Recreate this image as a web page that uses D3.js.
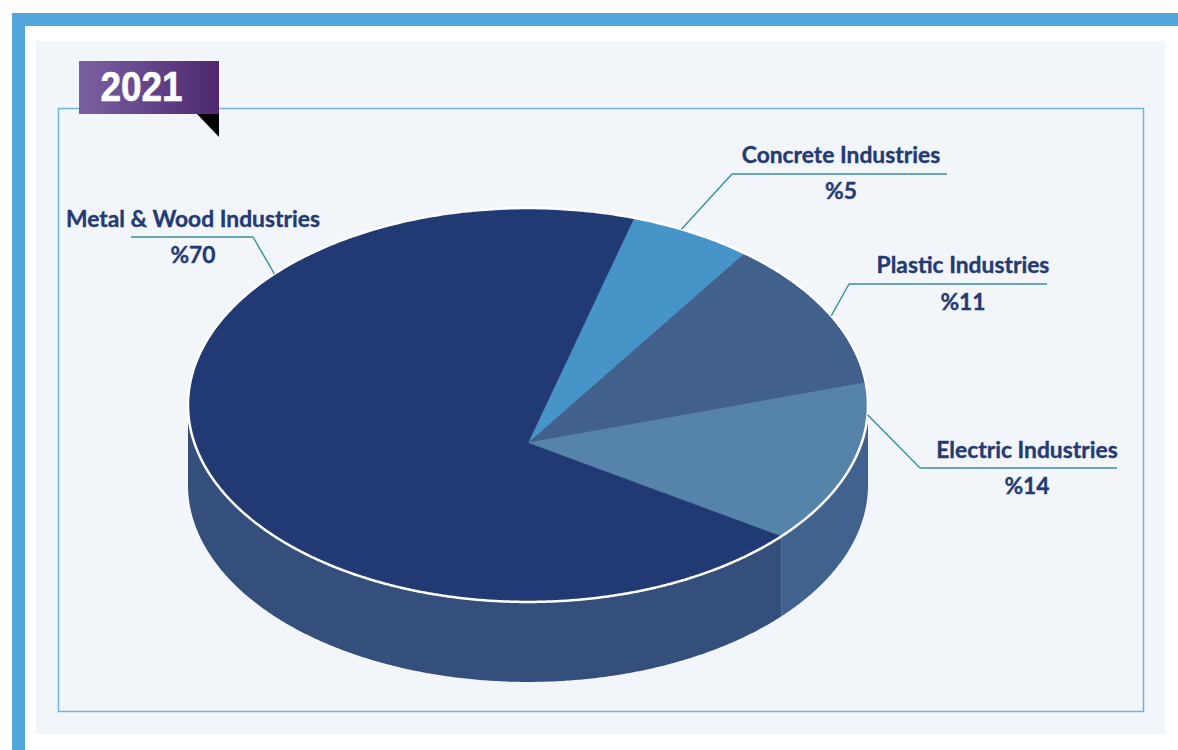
<!DOCTYPE html>
<html>
<head>
<meta charset="utf-8">
<script src="https://cdn.jsdelivr.net/npm/d3@7"></script>
<style>
  html, body { margin: 0; padding: 0; background: #ffffff; }
  svg { display: block; }
</style>
</head>
<body>
<script>
// ---- data ----
const year = "2021";
const categories = ["Concrete Industries", "Plastic Industries", "Electric Industries", "Metal & Wood Industries"];
const shares = [5, 11, 14, 70];
const shareLabels = ["%5", "%11", "%14", "%70"];

// ---- styling ----
const topColors  = ["#4795c8", "#41608c", "#5683aa", "#223a74"];
const sideColors = ["#3b7fb0", "#38557f", "#41618e", "#344f7b"];
const textColor = "#233a73";
const leaderColor = "#3a8f9a";

// label layout: text centre, baselines, leader elbow and horizontal rule, anchor position within slice
const labelLayout = [
  { x: 841,  nameY: 163, pctY: 199, ruleY: 174, ruleX0: 732, ruleX1: 947, elbowX: 732, anchor: 0.4 },
  { x: 963,  nameY: 273, pctY: 310, ruleY: 284, ruleX0: 849, ruleX1: 1047, elbowX: 849, anchor: 0.52 },
  { x: 1027, nameY: 458, pctY: 494, ruleY: 468, ruleX0: 920, ruleX1: 1117, elbowX: 920, anchor: 0.18 },
  { x: 193,  nameY: 227, pctY: 263, ruleY: 237, ruleX0: 131, ruleX1: 253, elbowX: 253, anchor: 0.78 }
];

const W = 1178, H = 750;
const svg = d3.select("body").append("svg").attr("width", W).attr("height", H);
const defs = svg.append("defs");

// ---- frame ----
svg.append("rect").attr("x", 18.5).attr("y", 19.5).attr("width", 1180).attr("height", 740)
  .attr("fill", "none").attr("stroke", "#52a7dc").attr("stroke-width", 13);
svg.append("rect").attr("x", 36).attr("y", 41).attr("width", 1129).attr("height", 693).attr("fill", "#f2f5fa");
svg.append("rect").attr("x", 58.5).attr("y", 108.5).attr("width", 1085).attr("height", 603)
  .attr("fill", "none").attr("stroke", "#6cb6e6").attr("stroke-width", 1.5);

// ---- 3D pie geometry ----
const cx = 528, cy = 443;        // apex of the slices
const a = 333.6, b = 189.6;      // projected radii
const k = 0.193;                 // perspective factor
const depth = 80;                // wall height

function rim(t, dy = 0) {
  const u = Math.sin(t), v = -Math.cos(t), w = 1 + k * v;
  return [cx + a * u / w, cy + b * v / w + dy];
}
function arcPoints(t0, t1, dy = 0) {
  const n = Math.max(2, Math.ceil(Math.abs(t1 - t0) / (Math.PI / 360)));
  return d3.range(n + 1).map(i => rim(t0 + (t1 - t0) * i / n, dy));
}
const line = d3.line();

const deg = Math.PI / 180;
const start = 15 * deg;
const pie = d3.pie().sort(null).value(d => d).startAngle(start).endAngle(start + 2 * Math.PI);
const arcs = pie(shares);

// front-facing wall lies between the two silhouette angles
const frontA = Math.acos(k), frontB = 2 * Math.PI - Math.acos(k);

const gSide = svg.append("g");
arcs.forEach((d, i) => {
  const s = Math.max(d.startAngle, frontA), e = Math.min(d.endAngle, frontB);
  if (e <= s) return;
  const pts = arcPoints(s, e).concat(arcPoints(e, s, depth));
  gSide.append("path").attr("d", line(pts) + "Z").attr("fill", sideColors[i]);
});

const gTop = svg.append("g");
arcs.forEach((d, i) => {
  const pts = [[cx, cy]].concat(arcPoints(d.startAngle, d.endAngle));
  gTop.append("path").attr("d", line(pts) + "Z")
    .attr("fill", topColors[i]).attr("stroke", topColors[i]).attr("stroke-width", 0.6);
});
// white rim around the top face
gTop.append("path").attr("d", line(arcPoints(0, 2 * Math.PI)) + "Z")
  .attr("fill", "none").attr("stroke", "#ffffff").attr("stroke-width", 2.5);

// ---- labels ----
const gLab = svg.append("g");
arcs.forEach((d, i) => {
  const L = labelLayout[i];
  const t = d.startAngle + L.anchor * (d.endAngle - d.startAngle);
  const p = rim(t);
  gLab.append("path")
    .attr("d", line([p, [L.elbowX, L.ruleY]]) + "M" + L.ruleX0 + "," + L.ruleY + "H" + L.ruleX1)
    .attr("fill", "none").attr("stroke", leaderColor).attr("stroke-width", 1.4);
  gLab.append("text").attr("x", L.x).attr("y", L.nameY).attr("text-anchor", "middle")
    .attr("font-family", "Lato, 'Noto Sans', sans-serif").attr("font-weight", 700)
    .attr("font-size", 22.8).attr("fill", textColor).attr("stroke", textColor).attr("stroke-width", 0.35)
    .text(categories[i]);
  gLab.append("text").attr("x", L.x).attr("y", L.pctY).attr("text-anchor", "middle")
    .attr("font-family", "Lato, 'Noto Sans', sans-serif").attr("font-weight", 700)
    .attr("font-size", 22.8).attr("fill", textColor).attr("stroke", textColor).attr("stroke-width", 0.35)
    .text(shareLabels[i]);
});

// ---- year badge ----
const grad = defs.append("linearGradient").attr("id", "badgeGrad").attr("x1", 0).attr("x2", 1).attr("y1", 0).attr("y2", 0);
grad.append("stop").attr("offset", 0).attr("stop-color", "#7a61a2");
grad.append("stop").attr("offset", 1).attr("stop-color", "#4e2870");
svg.append("path").attr("d", "M197,114L219,114L219,137Z").attr("fill", "#000000");
svg.append("rect").attr("x", 79).attr("y", 61).attr("width", 140).attr("height", 53).attr("fill", "url(#badgeGrad)");
svg.append("text").attr("transform", "translate(141.5,101) scale(0.86,1)")
  .attr("text-anchor", "middle").attr("font-family", "'Liberation Sans', Arial, sans-serif")
  .attr("font-weight", 700).attr("font-size", 43).attr("fill", "#ffffff")
  .attr("stroke", "#ffffff").attr("stroke-width", 0.6).text(year);
</script>
</body>
</html>
